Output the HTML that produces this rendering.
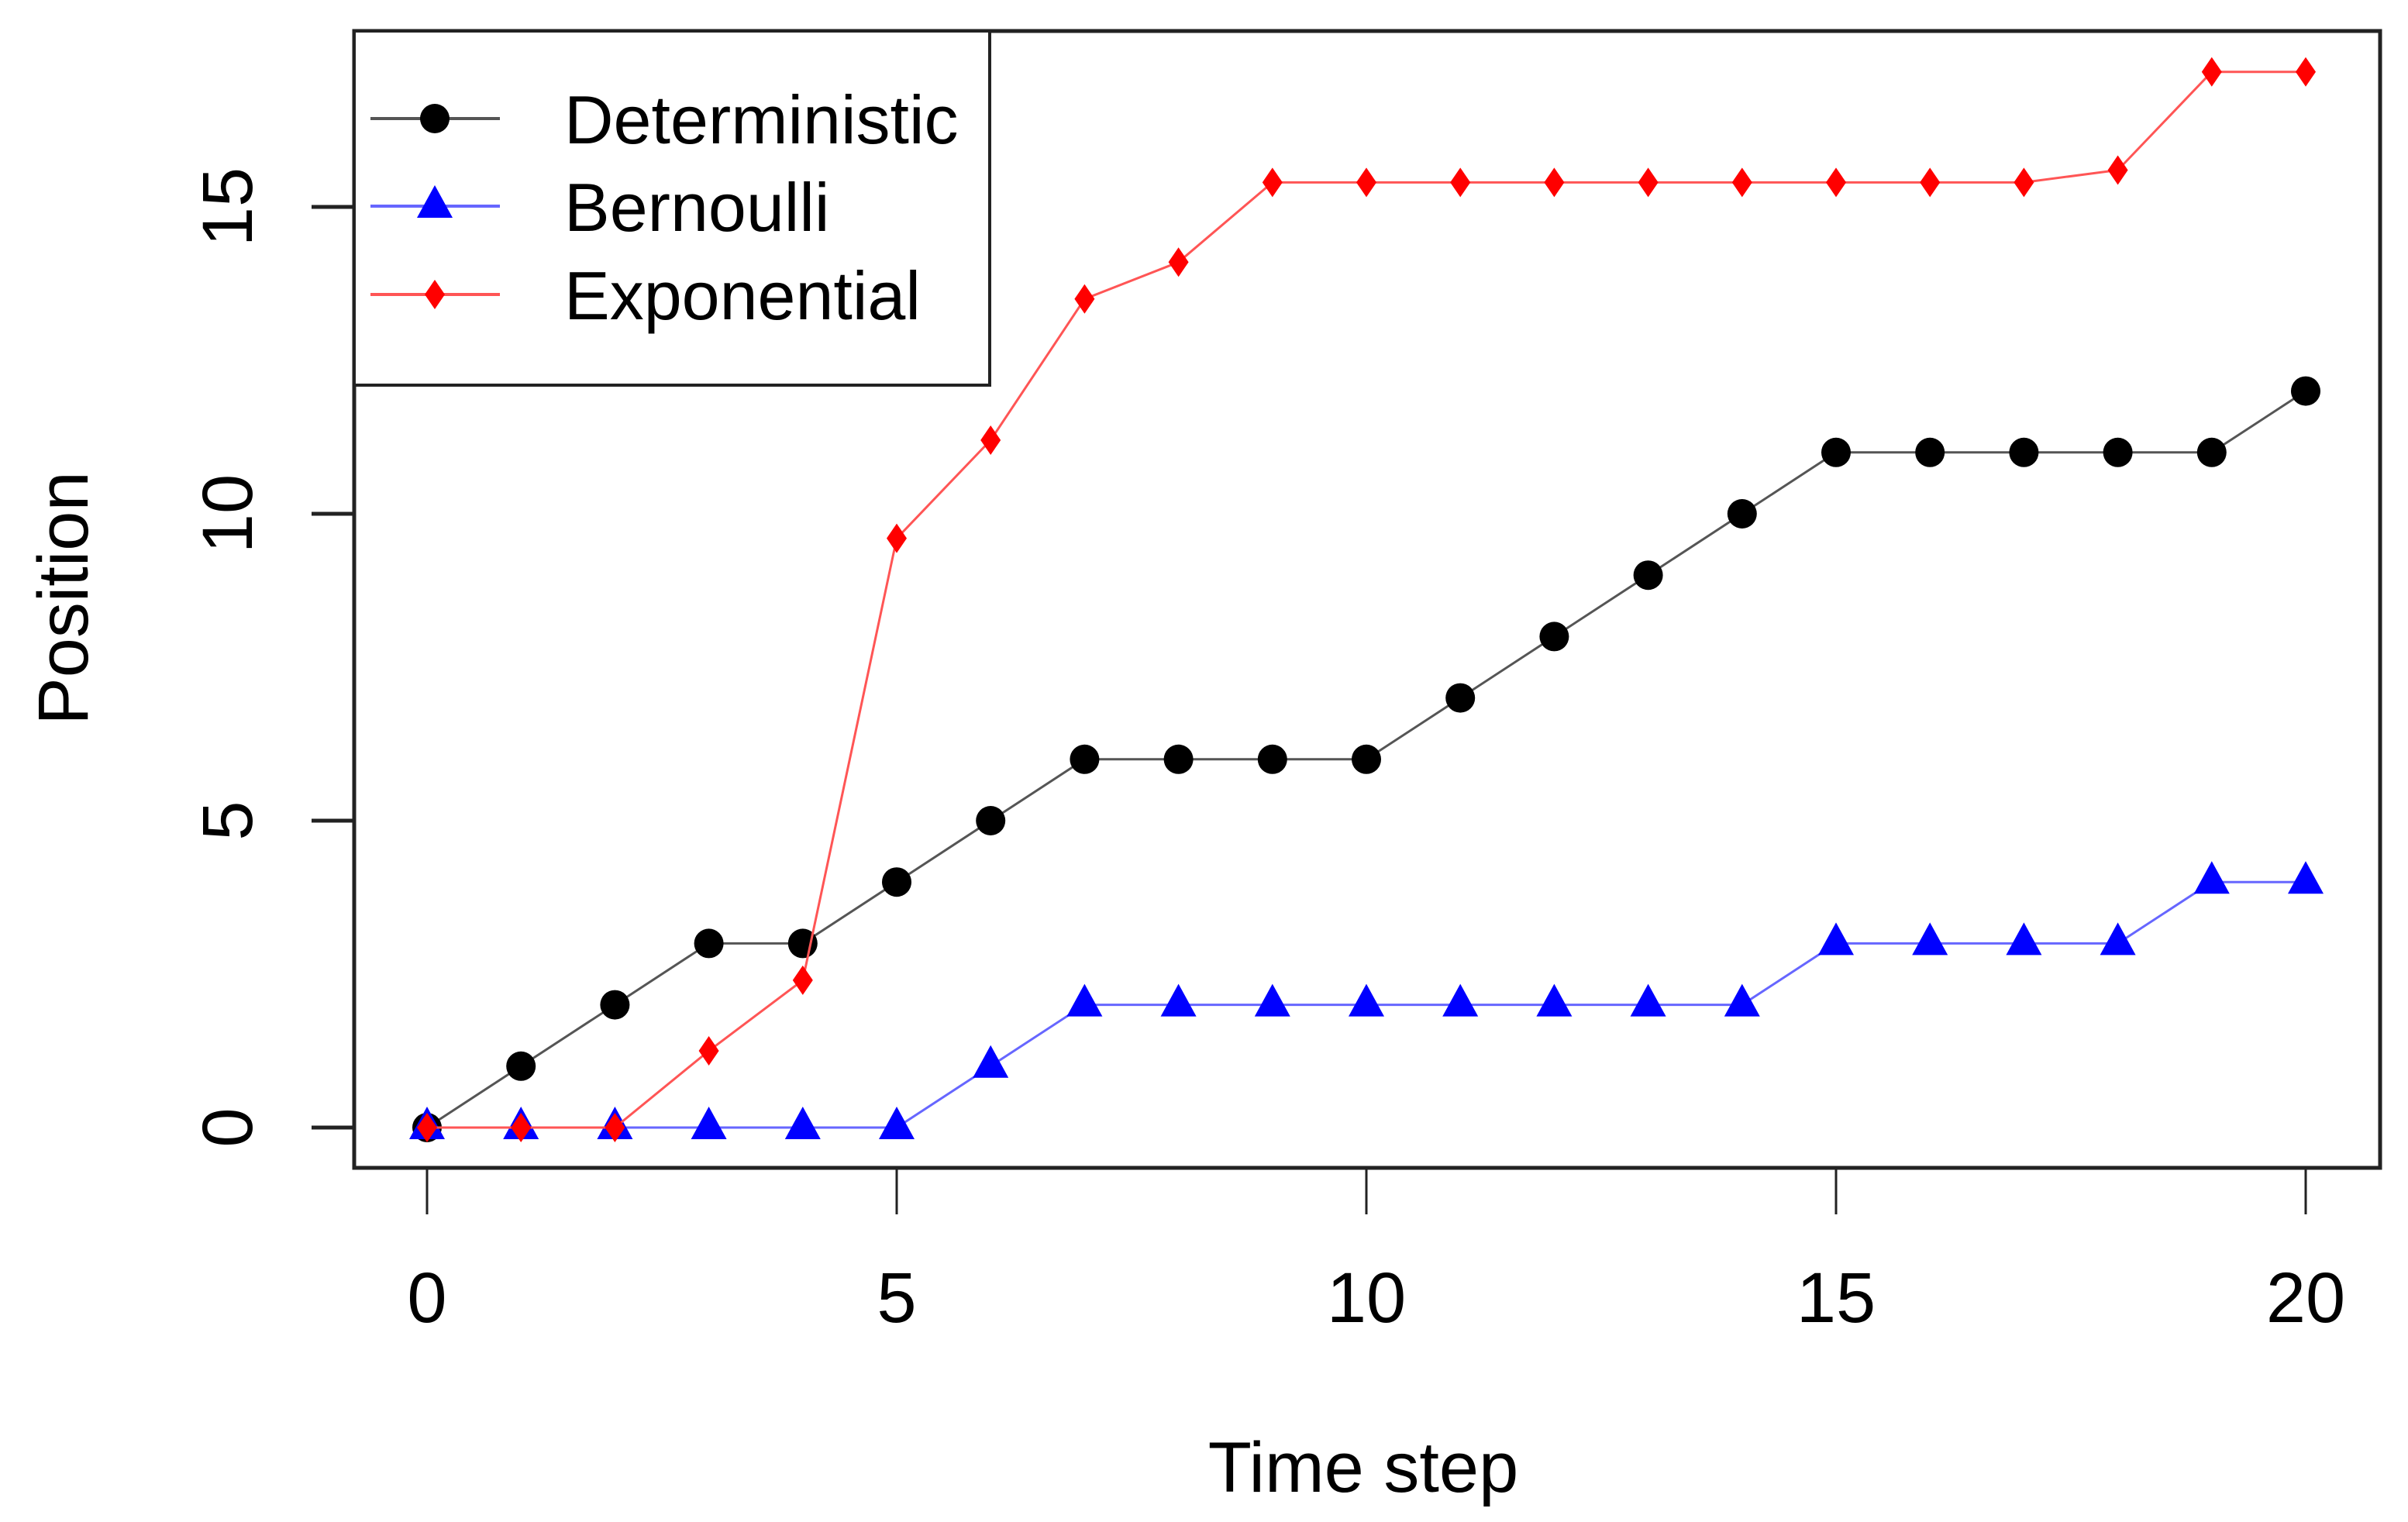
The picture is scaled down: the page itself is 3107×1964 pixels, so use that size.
<!DOCTYPE html>
<html><head><meta charset="utf-8"><style>
html,body{margin:0;padding:0;background:#fff;}
svg{display:block;}
text{font-family:"Liberation Sans",Arial,sans-serif;fill:#000;}
</style></head><body>
<svg id="chart" width="3107" height="1964" viewBox="0 0 3107 1964" xmlns="http://www.w3.org/2000/svg"></svg>
<script>
const timeSteps = [0,1,2,3,4,5,6,7,8,9,10,11,12,13,14,15,16,17,18,19,20];
const deterministic = [0,1,2,3,3,4,5,6,6,6,6,7,8,9,10,11,11,11,11,11,12];
const bernoulli = [0,0,0,0,0,0,1,2,2,2,2,2,2,2,2,3,3,3,3,4,4];
const exponential = [0,0,0,1.25,2.4,9.6,11.2,13.5,14.1,15.4,15.4,15.4,15.4,15.4,15.4,15.4,15.4,15.4,15.6,17.2,17.2];
const xTicks = [0,5,10,15,20];
const yTicks = [0,5,10,15];
const legendLabels = ["Deterministic","Bernoulli","Exponential"];

const NS="http://www.w3.org/2000/svg";
const svg=document.getElementById('chart');
const X=v=>551+v*121.2;
const Y=v=>1455-v*79.2;
function mk(tag,attrs,parent){const e=document.createElementNS(NS,tag);for(const k in attrs)e.setAttribute(k,attrs[k]);(parent||svg).appendChild(e);return e;}

// plot box
const box=mk('rect',{x:457,y:40,width:2614,height:1467,fill:'none',stroke:'#222','stroke-width':5});



// x ticks
xTicks.forEach(t=>{
  const l=mk('line',{x1:X(t),x2:X(t),y1:1507,y2:1567,stroke:'#222','stroke-width':3});
  
  
  const tx=mk('text',{x:X(t),y:1706,'font-size':92,'text-anchor':'middle'});
  tx.textContent=t;
  
  
});
// y ticks
yTicks.forEach(t=>{
  const l=mk('line',{x1:402,x2:457,y1:Y(t),y2:Y(t),stroke:'#222','stroke-width':5});
  
  
  const tx=mk('text',{x:0,y:0,'font-size':92,'text-anchor':'middle',transform:`translate(325,${Y(t)}) rotate(-90)`});
  tx.textContent=t;
  
  
});
const xt=mk('text',{x:1759,y:1925,'font-size':92,'text-anchor':'middle'});
xt.textContent='Time step';


const yt=mk('text',{x:0,y:0,'font-size':92,'text-anchor':'middle',transform:'translate(113,772) rotate(-90)'});
yt.textContent='Position';



function marker(type,cx,cy,color,g){
  let e;
  if(type==='circle') e=mk('circle',{cx:cx,cy:cy,r:19,fill:color},g);
  else if(type==='tri') e=mk('polygon',{points:`${cx},${cy-27} ${cx-23},${cy+15} ${cx+23},${cy+15}`,fill:color},g);
  else e=mk('polygon',{points:`${cx},${cy-19} ${cx-13},${cy} ${cx},${cy+19} ${cx+13},${cy}`,fill:color},g);
  return e;
}
const series=[
  {name:'deterministic',vals:deterministic,color:'#000',line:'#555',m:'circle'},
  {name:'bernoulli',vals:bernoulli,color:'#0000ff',line:'#6666ff',m:'tri'},
  {name:'exponential',vals:exponential,color:'#ff0000',line:'#ff5555',m:'diamond'}
];
series.forEach(s=>{
  const g=mk('g',{});
  
  
  const p=mk('polyline',{points:s.vals.map((v,i)=>X(timeSteps[i])+','+Y(v)).join(' '),fill:'none',stroke:s.line,'stroke-width':3},g);
  
  
  s.vals.forEach((v,i)=>{
    const m=marker(s.m,X(timeSteps[i]),Y(v),s.color,g);
    
    
  });
});

// legend
const lg=mk('g',{});


const lr=mk('rect',{x:457,y:40,width:820,height:457,fill:'#fff',stroke:'#222','stroke-width':4},lg);


const ly=[153,266,380];
series.forEach((s,i)=>{
  const eg=mk('g',{},lg);
  
  
  mk('line',{x1:478,x2:645,y1:ly[i],y2:ly[i],stroke:s.line,'stroke-width':4},eg);
  marker(s.m,561,ly[i],s.color,eg);
  const t=mk('text',{x:728,y:ly[i]+32,'font-size':88},eg);
  t.textContent=legendLabels[i];
});
</script>
</body></html>
